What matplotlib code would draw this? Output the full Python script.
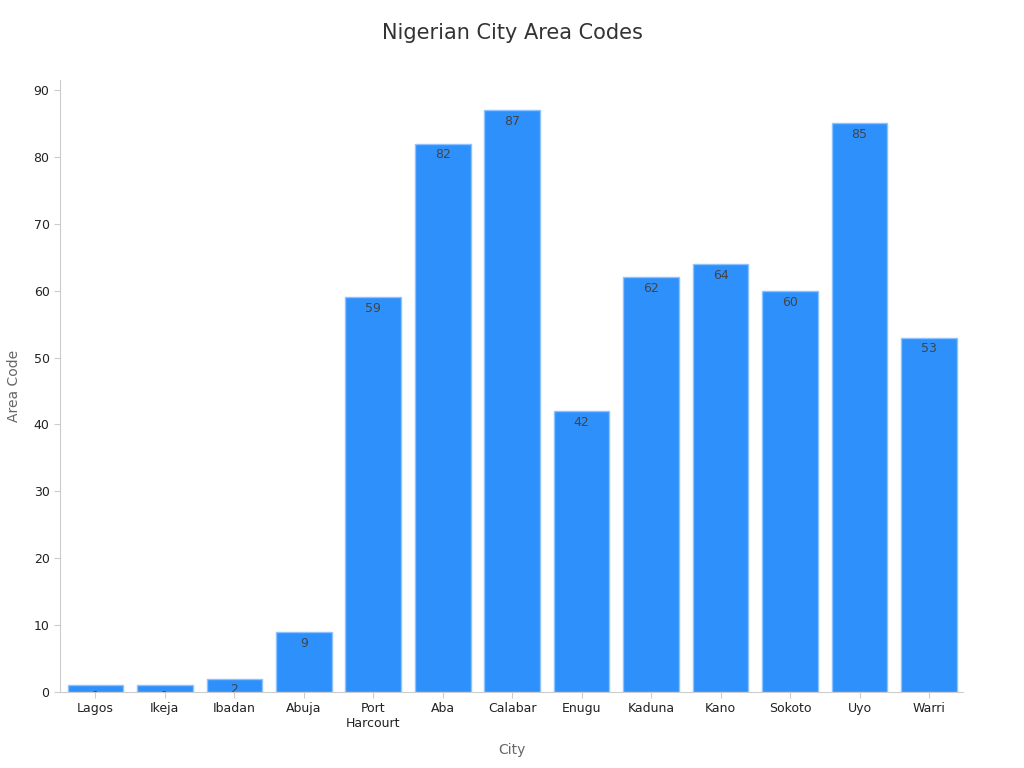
"""Nigerian city area codes bar chart."""

import matplotlib
matplotlib.use("Agg")
import matplotlib.pyplot as plt
import numpy as np
from matplotlib.transforms import Bbox, TransformedBbox

cities = ["Lagos", "Ikeja", "Ibadan", "Abuja", "Port\nHarcourt", "Aba", "Calabar",
          "Enugu", "Kaduna", "Kano", "Sokoto", "Uyo", "Warri"]
codes = [1, 1, 2, 9, 59, 82, 87, 42, 62, 64, 60, 85, 53]


def main() -> None:
    fig = plt.figure(figsize=(10.24, 7.68), dpi=100)
    ax = fig.add_axes([60 / 1024, 76 / 768, 903 / 1024, 612 / 768])

    x = np.arange(len(cities))
    bars = ax.bar(x, codes, width=0.8, color="#2E90FA", edgecolor="#8CC2FF", linewidth=1)

    # value labels sit inside the top of each bar and are clipped to it
    for bar, val in zip(bars, codes):
        x0 = bar.get_x()
        x1 = x0 + bar.get_width()
        t = ax.annotate(
            f"{val}",
            xy=((x0 + x1) / 2, bar.get_height()),
            xytext=(0, -3.5),
            textcoords="offset points",
            ha="center",
            va="top",
            fontsize=9,
            color="#444444",
        )
        t.set_clip_on(True)
        t.set_clip_box(TransformedBbox(Bbox.from_extents(x0, 0, x1, bar.get_height()),
                                       ax.transData))

    ax.set_xlim(-0.51, len(cities) - 0.51)
    ax.set_ylim(0, 91.5)
    ax.set_yticks(range(0, 91, 10))
    ax.set_xticks(x)
    ax.set_xticklabels(cities)
    ax.tick_params(axis="both", labelsize=9, colors="#cccccc", labelcolor="#222222", length=4)

    for side in ["top", "right"]:
        ax.spines[side].set_visible(False)
    for side in ["left", "bottom"]:
        ax.spines[side].set_color("#cccccc")

    ax.set_xlabel("City", fontsize=10, color="#666666", labelpad=9)
    ax.set_ylabel("Area Code", fontsize=10, color="#666666", labelpad=9)
    fig.suptitle("Nigerian City Area Codes", fontsize=15, color="#333333", y=0.97)

    fig.savefig("out.png", dpi=100)
    plt.close(fig)


if __name__ == "__main__":
    main()
